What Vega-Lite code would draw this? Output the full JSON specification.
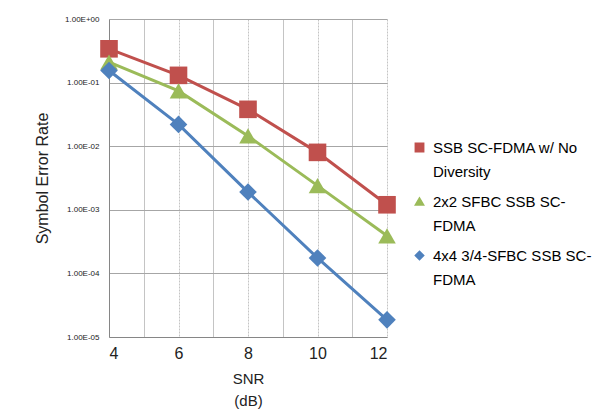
{
  "$schema": "https://vega.github.io/schema/vega-lite/v6.json",
  "width": 278,
  "height": 318,
  "autosize": {"type": "none"},
  "padding": {"left": 109, "top": 19, "right": 228, "bottom": 76},
  "background": "white",
  "config": {
    "font": "Liberation Sans",
    "view": {"stroke": null},
    "style": {"guide-label": {"lineHeight": 24}},
    "axis": {"domainColor": "#868686", "ticks": false, "labelColor": "#222", "titleColor": "#222", "titleFontWeight": "normal"}
  },
  "data": {"values": [
    {"snr": 4, "ser": 0.34, "scheme": "SSB SC-FDMA w/ No Diversity"},
    {"snr": 6, "ser": 0.13, "scheme": "SSB SC-FDMA w/ No Diversity"},
    {"snr": 8, "ser": 0.038, "scheme": "SSB SC-FDMA w/ No Diversity"},
    {"snr": 10, "ser": 0.008, "scheme": "SSB SC-FDMA w/ No Diversity"},
    {"snr": 12, "ser": 0.0012, "scheme": "SSB SC-FDMA w/ No Diversity"},
    {"snr": 4, "ser": 0.21, "scheme": "2x2 SFBC SSB SC-FDMA"},
    {"snr": 6, "ser": 0.074, "scheme": "2x2 SFBC SSB SC-FDMA"},
    {"snr": 8, "ser": 0.0145, "scheme": "2x2 SFBC SSB SC-FDMA"},
    {"snr": 10, "ser": 0.0024, "scheme": "2x2 SFBC SSB SC-FDMA"},
    {"snr": 12, "ser": 0.00039, "scheme": "2x2 SFBC SSB SC-FDMA"},
    {"snr": 4, "ser": 0.155, "scheme": "4x4 3/4-SFBC SSB SC-FDMA"},
    {"snr": 6, "ser": 0.022, "scheme": "4x4 3/4-SFBC SSB SC-FDMA"},
    {"snr": 8, "ser": 0.0019, "scheme": "4x4 3/4-SFBC SSB SC-FDMA"},
    {"snr": 10, "ser": 0.000175, "scheme": "4x4 3/4-SFBC SSB SC-FDMA"},
    {"snr": 12, "ser": 0.0000186, "scheme": "4x4 3/4-SFBC SSB SC-FDMA"}
  ]},
  "encoding": {
    "x": {"field": "snr", "type": "quantitative",
      "scale": {"domain": [4, 12], "nice": false, "zero": false},
      "axis": {"values": [4,5,6,7,8,9,10,11,12], "labelExpr": "datum.value % 2 == 0 ? datum.label : ''", "labelFontSize": 16, "labelPadding": 8, "title": ["SNR", "(dB)"], "titleFontSize": 15, "titlePadding": 10, "titleLineHeight": 22,
        "gridColor": "#c4c4c4", "gridDash": {"condition": {"test": "datum.value % 2 == 0", "value": [2, 1]}, "value": []}}},
    "y": {"field": "ser", "type": "quantitative",
      "scale": {"type": "log", "domain": [0.00001, 1], "nice": false},
      "axis": {"values": [1, 0.1, 0.01, 0.001, 0.0001, 0.00001], "labelExpr": "'1.00E' + (round(log(datum.value)/LN10) >= 0 ? '+' : '-') + '0' + abs(round(log(datum.value)/LN10))", "labelFontSize": 8, "labelPadding": 10, "title": "Symbol Error Rate", "titleFontSize": 16, "titlePadding": 14, "gridColor": "#a6a6a6"}},
    "color": {"field": "scheme", "type": "nominal",
      "scale": {"domain": ["SSB SC-FDMA w/ No Diversity", "2x2 SFBC SSB SC-FDMA", "4x4 3/4-SFBC SSB SC-FDMA"], "range": ["#C0504D", "#9BBB59", "#4F81BD"]},
      "legend": {"orient": "none", "legendX": 303, "legendY": 121, "title": null, "labelFontSize": 15, "labelLimit": 300, "symbolSize": 70, "rowPadding": 14, "labelOffset": 6,
        "labelExpr": "datum.label == 'SSB SC-FDMA w/ No Diversity' ? ['SSB SC-FDMA w/ No', 'Diversity'] : datum.label == '2x2 SFBC SSB SC-FDMA' ? ['2x2 SFBC SSB SC-', 'FDMA'] : ['4x4 3/4-SFBC SSB SC-', 'FDMA']"}}
  },
  "layer": [
    {"mark": {"type": "line", "strokeWidth": 3}},
    {"mark": {"type": "point", "filled": true, "opacity": 1, "size": 310},
     "encoding": {"shape": {"field": "scheme", "type": "nominal",
       "scale": {"domain": ["SSB SC-FDMA w/ No Diversity", "2x2 SFBC SSB SC-FDMA", "4x4 3/4-SFBC SSB SC-FDMA"], "range": ["square", "triangle-up", "diamond"]}}}}
  ]
}
